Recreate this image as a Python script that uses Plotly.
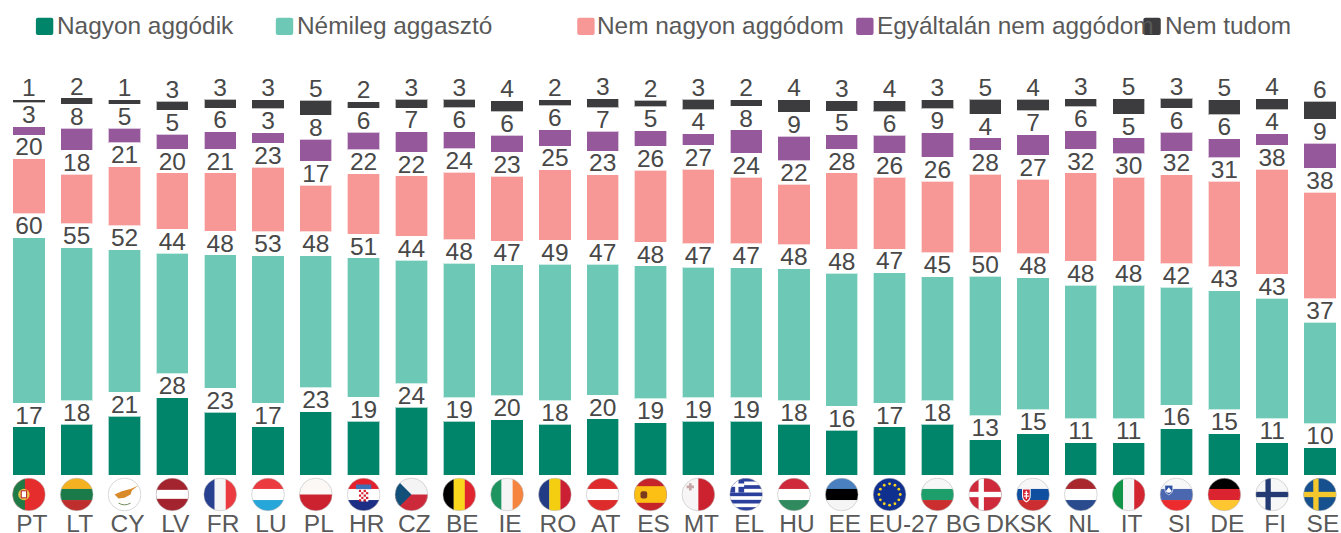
import base64
import math
import plotly.graph_objects as go

categories = ["PT","LT","CY","LV","FR","LU","PL","HR","CZ","BE","IE","RO","AT","ES","MT","EL","HU","EE","EU-27","BG","DK","SK","NL","IT","SI","DE","FI","SE"]
# printed labels
very_worried = [17,18,21,28,23,17,23,19,24,19,20,18,20,19,19,19,18,16,17,18,13,15,11,11,16,15,11,10]
somewhat = [60,55,52,44,48,53,48,51,44,48,47,49,47,48,47,47,48,48,47,45,50,48,48,48,42,43,43,37]
not_very = [20,18,21,20,21,23,17,22,22,24,23,25,23,26,27,24,22,28,26,26,28,27,32,30,32,31,38,38]
not_at_all = [3,8,5,5,6,3,8,6,7,6,6,6,7,5,4,8,9,5,6,9,4,7,6,5,6,6,4,9]
dont_know = [1,2,1,3,3,3,5,2,3,3,4,2,3,2,3,2,4,3,4,3,5,4,3,5,3,5,4,6]
# unrounded lengths
very_worried_len = [17.3,18.2,21.2,27.9,22.7,17.3,22.9,19.4,24.4,19.3,20.0,18.2,20.2,18.8,19.3,19.3,18.2,16.1,17.3,18.2,12.7,14.8,11.6,11.6,16.6,14.8,11.6,9.7]
somewhat_len = [59.8,55.3,51.5,43.5,48.1,53.2,47.6,50.3,44.5,48.4,47.2,49.3,47.2,48.0,47.0,46.9,47.6,48.1,47.0,44.7,50.3,47.8,48.2,48.2,42.4,43.0,43.5,36.6]
not_very_len = [19.6,17.6,21.2,20.2,20.8,23.2,16.7,21.6,21.6,24.1,23.2,25.2,23.5,25.8,26.7,23.9,21.6,27.4,25.8,25.7,28.1,26.7,31.8,30.2,31.9,30.7,37.9,38.3]
not_at_all_len = [2.7,7.8,5.0,5.1,5.9,3.5,7.6,6.1,7.0,5.8,5.8,5.6,6.8,5.3,3.9,8.1,8.6,4.8,6.1,8.6,4.2,7.2,6.3,5.3,6.5,6.5,3.9,8.8]
dont_know_len = [0.7,1.9,1.3,2.9,2.9,2.9,5.1,2.1,2.9,2.7,3.6,1.9,2.9,2.1,3.4,1.9,4.1,3.4,3.6,3.0,5.1,3.9,2.7,5.3,3.3,5.1,3.6,6.3]
series_names = ["Nagyon aggódik","Némileg aggasztó","Nem nagyon aggódom","Egyáltalán nem aggódom","Nem tudom"]
series_labels = [very_worried, somewhat, not_very, not_at_all, dont_know]
series_lengths = [very_worried_len, somewhat_len, not_very_len, not_at_all_len, dont_know_len]

COLORS = ["#00856A","#6DC9B6","#F79897","#94589B","#3C3C3E"]
EDGES = ["rgba(0,133,106,.35)","rgba(109,201,182,.35)","rgba(247,152,151,.35)","rgba(148,88,155,.35)","rgba(60,60,62,.35)"]
GAP = 9.03
W, H = 1341, 533
L, B = 4.6, 58
PW, PH = W - L, H - B
PX_PER_UNIT = 2.75
BAND = 47.83
FONT = "Liberation Sans, Arial, sans-serif"
NUM_C, LEG_C = "#484848", "#595959"
LABEL_SHIFT = {"EU-27": 14, "BG": 26, "DK": 18}

def vb(c): return "".join(f'<rect x="0" y="{i*100/len(c)}" width="100" height="{100/len(c)+.5}" fill="{k}"/>' for i,k in enumerate(c))
def vv(c): return "".join(f'<rect y="0" x="{i*100/len(c)}" height="100" width="{100/len(c)+.5}" fill="{k}"/>' for i,k in enumerate(c))
def nordic(bg, fg):
    return f'<rect width="100" height="100" fill="{bg}"/><rect x="30" width="16" height="100" fill="{fg}"/><rect y="42" width="100" height="16" fill="{fg}"/>'
def stars():
    out = '<rect width="100" height="100" fill="#10308F"/>'
    for k in range(12):
        a = k*math.pi/6
        out += f'<circle cx="{50+32*math.cos(a):.1f}" cy="{50+32*math.sin(a):.1f}" r="4.2" fill="#F7D21C"/>'
    return out
checker = "".join(f'<rect x="{36+7*i}" y="{36+7*j}" width="7" height="7" fill="{"#D6202F" if (i+j)%2==0 else "#fff"}"/>' for i in range(4) for j in range(5))
greek = '<rect width="100" height="100" fill="#fff"/>' + "".join(f'<rect y="{y}" width="100" height="11" fill="#2B3F9C"/>' for y in (0,22,44,66,88)) + '<rect width="44" height="44" fill="#2B3F9C"/><rect x="17" width="10" height="44" fill="#fff"/><rect y="17" width="44" height="10" fill="#fff"/>'
FLAGS = {
 "PT": '<rect width="100" height="100" fill="#E52D2D"/><rect width="38" height="100" fill="#1F7A45"/><circle cx="35" cy="50" r="17" fill="#E8C34A"/><rect x="27" y="39" width="16" height="21" fill="#fff" stroke="#B8232A" stroke-width="3"/>',
 "LT": vb(["#F4B223","#1B7A4A","#BE2E2C"]),
 "CY": '<rect width="100" height="100" fill="#fff"/><path d="M20 50 L42 40 L72 32 L92 22 L72 38 L68 50 L50 60 L32 62 Z" fill="#D98A2B"/><path d="M32 76 Q50 86 68 76" stroke="#6E8B55" stroke-width="3" fill="none"/>',
 "LV": '<rect width="100" height="100" fill="#A3242F"/><rect y="36" width="100" height="27" fill="#fff"/>',
 "FR": vv(["#27408F","#F5F5F5","#EC3A41"]),
 "LU": vb(["#EC3A41","#fff","#26A6D9"]),
 "PL": vb(["#FBF8F6","#CC2230"]),
 "HR": vb(["#E3202B","#fff","#1C2E85"]) + '<rect x="27" y="20" width="46" height="14" fill="#3F6FB5"/>' + checker,
 "CZ": vb(["#F4F4F4","#CC2A3A"]) + '<path d="M0 0 L50 50 L0 100 Z" fill="#12507A"/>',
 "BE": vv(["#000","#F9D71C","#E1252E"]),
 "IE": vv(["#1E9460","#F5F5F5","#F5843F"]),
 "RO": vv(["#213B85","#F4CE10","#CB1F33"]),
 "AT": vb(["#DE2B2B","#fff","#DE2B2B"]),
 "ES": '<rect width="100" height="100" fill="#C4242A"/><rect y="25" width="100" height="50" fill="#FCC015"/><rect x="20" y="40" width="20" height="22" rx="6" fill="#7A3A1E"/>',
 "MT": vv(["#F7F5F5","#CC2230"]) + '<path d="M22 16 h8 v7 h7 v8 h-7 v7 h-8 v-7 h-7 v-8 h7 Z" fill="#C6A7A7"/>',
 "EL": greek,
 "HU": vb(["#CE2A3B","#fff","#2F8A5E"]),
 "EE": vb(["#4A80BF","#000","#F5F5F5"]),
 "EU-27": stars(),
 "BG": vb(["#F8F7F7","#1E9E6A","#CB2E2F"]),
 "DK": nordic("#CE2A3B", "#fff"),
 "SK": vb(["#F7F7F7","#104FA0","#CC2D30"]) + '<path d="M17 32 h26 v22 q0 14 -13 20 q-13 -6 -13 -20 Z" fill="#fff"/><path d="M20 35 h20 v19 q0 11 -10 16 q-10 -5 -10 -16 Z" fill="#D32030"/><rect x="28" y="39" width="4" height="24" fill="#fff"/><rect x="24" y="45" width="12" height="3.5" fill="#fff"/><rect x="22" y="53" width="16" height="3.5" fill="#fff"/>',
 "NL": vb(["#A8282E","#fff","#2A4C8E"]),
 "IT": vv(["#0F944A","#F5F5F5","#D32530"]),
 "SI": vb(["#F8F8F8","#4A67B0","#EB2B2E"]) + '<path d="M15 22 h24 v14 q0 10 -12 15 q-12 -5 -12 -15 Z" fill="#2D4FA3" stroke="#fff" stroke-width="2"/><path d="M18 40 L27 28 L36 40 Q27 50 18 40 Z" fill="#fff"/>',
 "DE": vb(["#000","#DB2430","#FFC72F"]),
 "FI": nordic("#F7F7F7", "#233A72"),
 "SE": nordic("#17508F", "#F4C82D"),
}
def flag_uri(code):
    svg = ('<svg xmlns="http://www.w3.org/2000/svg" width="102" height="102" viewBox="-1 -1 102 102">'
           '<defs><clipPath id="c"><circle cx="50" cy="50" r="49"/></clipPath></defs>'
           f'<g clip-path="url(#c)">{FLAGS[code]}</g>'
           '<circle cx="50" cy="50" r="49.2" fill="none" stroke="#B5B5B5" stroke-width="1.6"/></svg>')
    return "data:image/svg+xml;base64," + base64.b64encode(svg.encode()).decode()

positions = list(range(len(categories)))
fig = go.Figure()
for name, labs, lens, col, edge in zip(series_names, series_labels, series_lengths, COLORS, EDGES):
    fig.add_trace(go.Bar(x=positions, y=lens, name=name, marker=dict(color=col, line=dict(width=1, color=edge)),
                         customdata=list(zip(categories, labs)),
                         hovertemplate="%{customdata[0]}: %{customdata[1]}<extra>"+name+"</extra>", showlegend=False))
    fig.add_trace(go.Bar(x=positions, y=[GAP]*len(labs), marker=dict(color="rgba(0,0,0,0)", line=dict(width=0)),
                         text=[str(v) for v in labs], textposition="inside", insidetextanchor="middle",
                         constraintext="none", textangle=0, cliponaxis=False,
                         insidetextfont=dict(family=FONT, size=24.5, color=NUM_C),
                         hoverinfo="skip", showlegend=False))

def px(x): return (x - L) / PW
def py(y): return (PH - y) / PH

shapes, annos = [], []
legend_x = [(35.5, 55), (275.5, 295), (577, 595), (856, 875), (1143.3, 1163)]
for (sx, tx), name, col in zip(legend_x, series_names, COLORS):
    x0, x1, y0, y1, r = sx, sx + 17.4, 17.7, 35, 2
    p = (f"M {px(x0+r)} {py(y0)} L {px(x1-r)} {py(y0)} Q {px(x1)} {py(y0)} {px(x1)} {py(y0+r)} "
         f"L {px(x1)} {py(y1-r)} Q {px(x1)} {py(y1)} {px(x1-r)} {py(y1)} L {px(x0+r)} {py(y1)} "
         f"Q {px(x0)} {py(y1)} {px(x0)} {py(y1-r)} L {px(x0)} {py(y0+r)} Q {px(x0)} {py(y0)} {px(x0+r)} {py(y0)} Z")
    shapes.append(dict(type="path", path=p, xref="paper", yref="paper", fillcolor=col, line=dict(width=0), layer="below"))
    annos.append(dict(text=name, x=px(tx), y=py(25.3), xref="paper", yref="paper", xanchor="left", yanchor="middle",
                      showarrow=False, align="left", font=dict(family=FONT, size=24.4, color=LEG_C)))

images = [dict(source=flag_uri(c), x=i, y=py(494.5), xref="x", yref="paper", sizex=34/BAND, sizey=34/PH,
               xanchor="center", yanchor="middle", sizing="contain", layer="above") for i, c in enumerate(categories)]

tickvals = [i + (LABEL_SHIFT.get(c, 3))/BAND for i, c in enumerate(categories)]
fig.update_layout(
    width=W, height=H, margin=dict(l=L, r=0, t=0, b=B, pad=0), barmode="stack", bargap=0.346,
    plot_bgcolor="white", paper_bgcolor="white", showlegend=False, shapes=shapes, annotations=annos, images=images,
    font=dict(family=FONT, size=24, color=LEG_C),
    xaxis=dict(range=[-0.5, -0.5 + PW/BAND], tickmode="array", tickvals=tickvals, ticktext=categories,
               ticks="outside", ticklen=27, tickcolor="rgba(0,0,0,0)", tickangle=0, showgrid=False, zeroline=False,
               showline=False, automargin=False, tickfont=dict(family=FONT, size=24.5, color=LEG_C)),
    yaxis=dict(range=[0, PH/PX_PER_UNIT], visible=False, automargin=False),
)
fig.write_html("out.html", config=dict(displayModeBar=False),
               post_script="document.body.style.margin='0';document.body.style.overflow='hidden';window.scrollTo(0,0);")
